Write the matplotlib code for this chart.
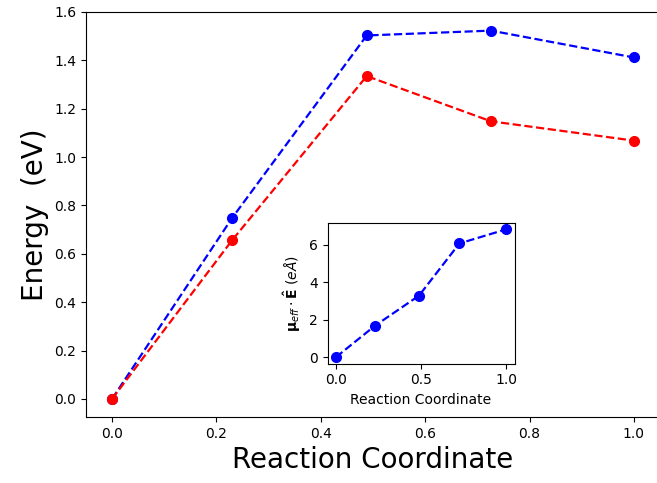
import matplotlib
matplotlib.use("Agg")
import matplotlib.pyplot as plt

# reaction coordinate and energies
coord = [0.0, 0.23, 0.488, 0.726, 1.0]
energy_blue = [0.0, 0.748, 1.503, 1.523, 1.412]
energy_red = [0.0, 0.656, 1.335, 1.148, 1.068]

# inset: projected dipole
dipole = [0.0, 1.68, 3.28, 6.07, 6.82]

fig = plt.figure(figsize=(6.57, 4.83), dpi=100)
ax = fig.add_axes([86 / 657, 1 - 417 / 483, 574 / 657, 405 / 483])
ax.plot(coord, energy_blue, "o--", color="blue", lw=1.6, ms=7)
ax.plot(coord, energy_red, "o--", color="red", lw=1.6, ms=7)
ax.set_ylim(-0.075, 1.6)
ax.set_xlabel("Reaction Coordinate", fontsize=20)
ax.set_ylabel("Energy  (eV)", fontsize=20)

ins = fig.add_axes([327.5 / 657, 1 - 363.5 / 483, 187 / 657, 140.5 / 483])
ins.plot(coord, dipole, "o--", color="blue", lw=1.6, ms=7)
ins.set_xlabel("Reaction Coordinate")
ins.set_ylabel(r"$\mathbf{\mu}_{eff}\cdot\mathbf{\hat{E}}$ $(e\AA)$")

fig.savefig("out.png", dpi=100)
